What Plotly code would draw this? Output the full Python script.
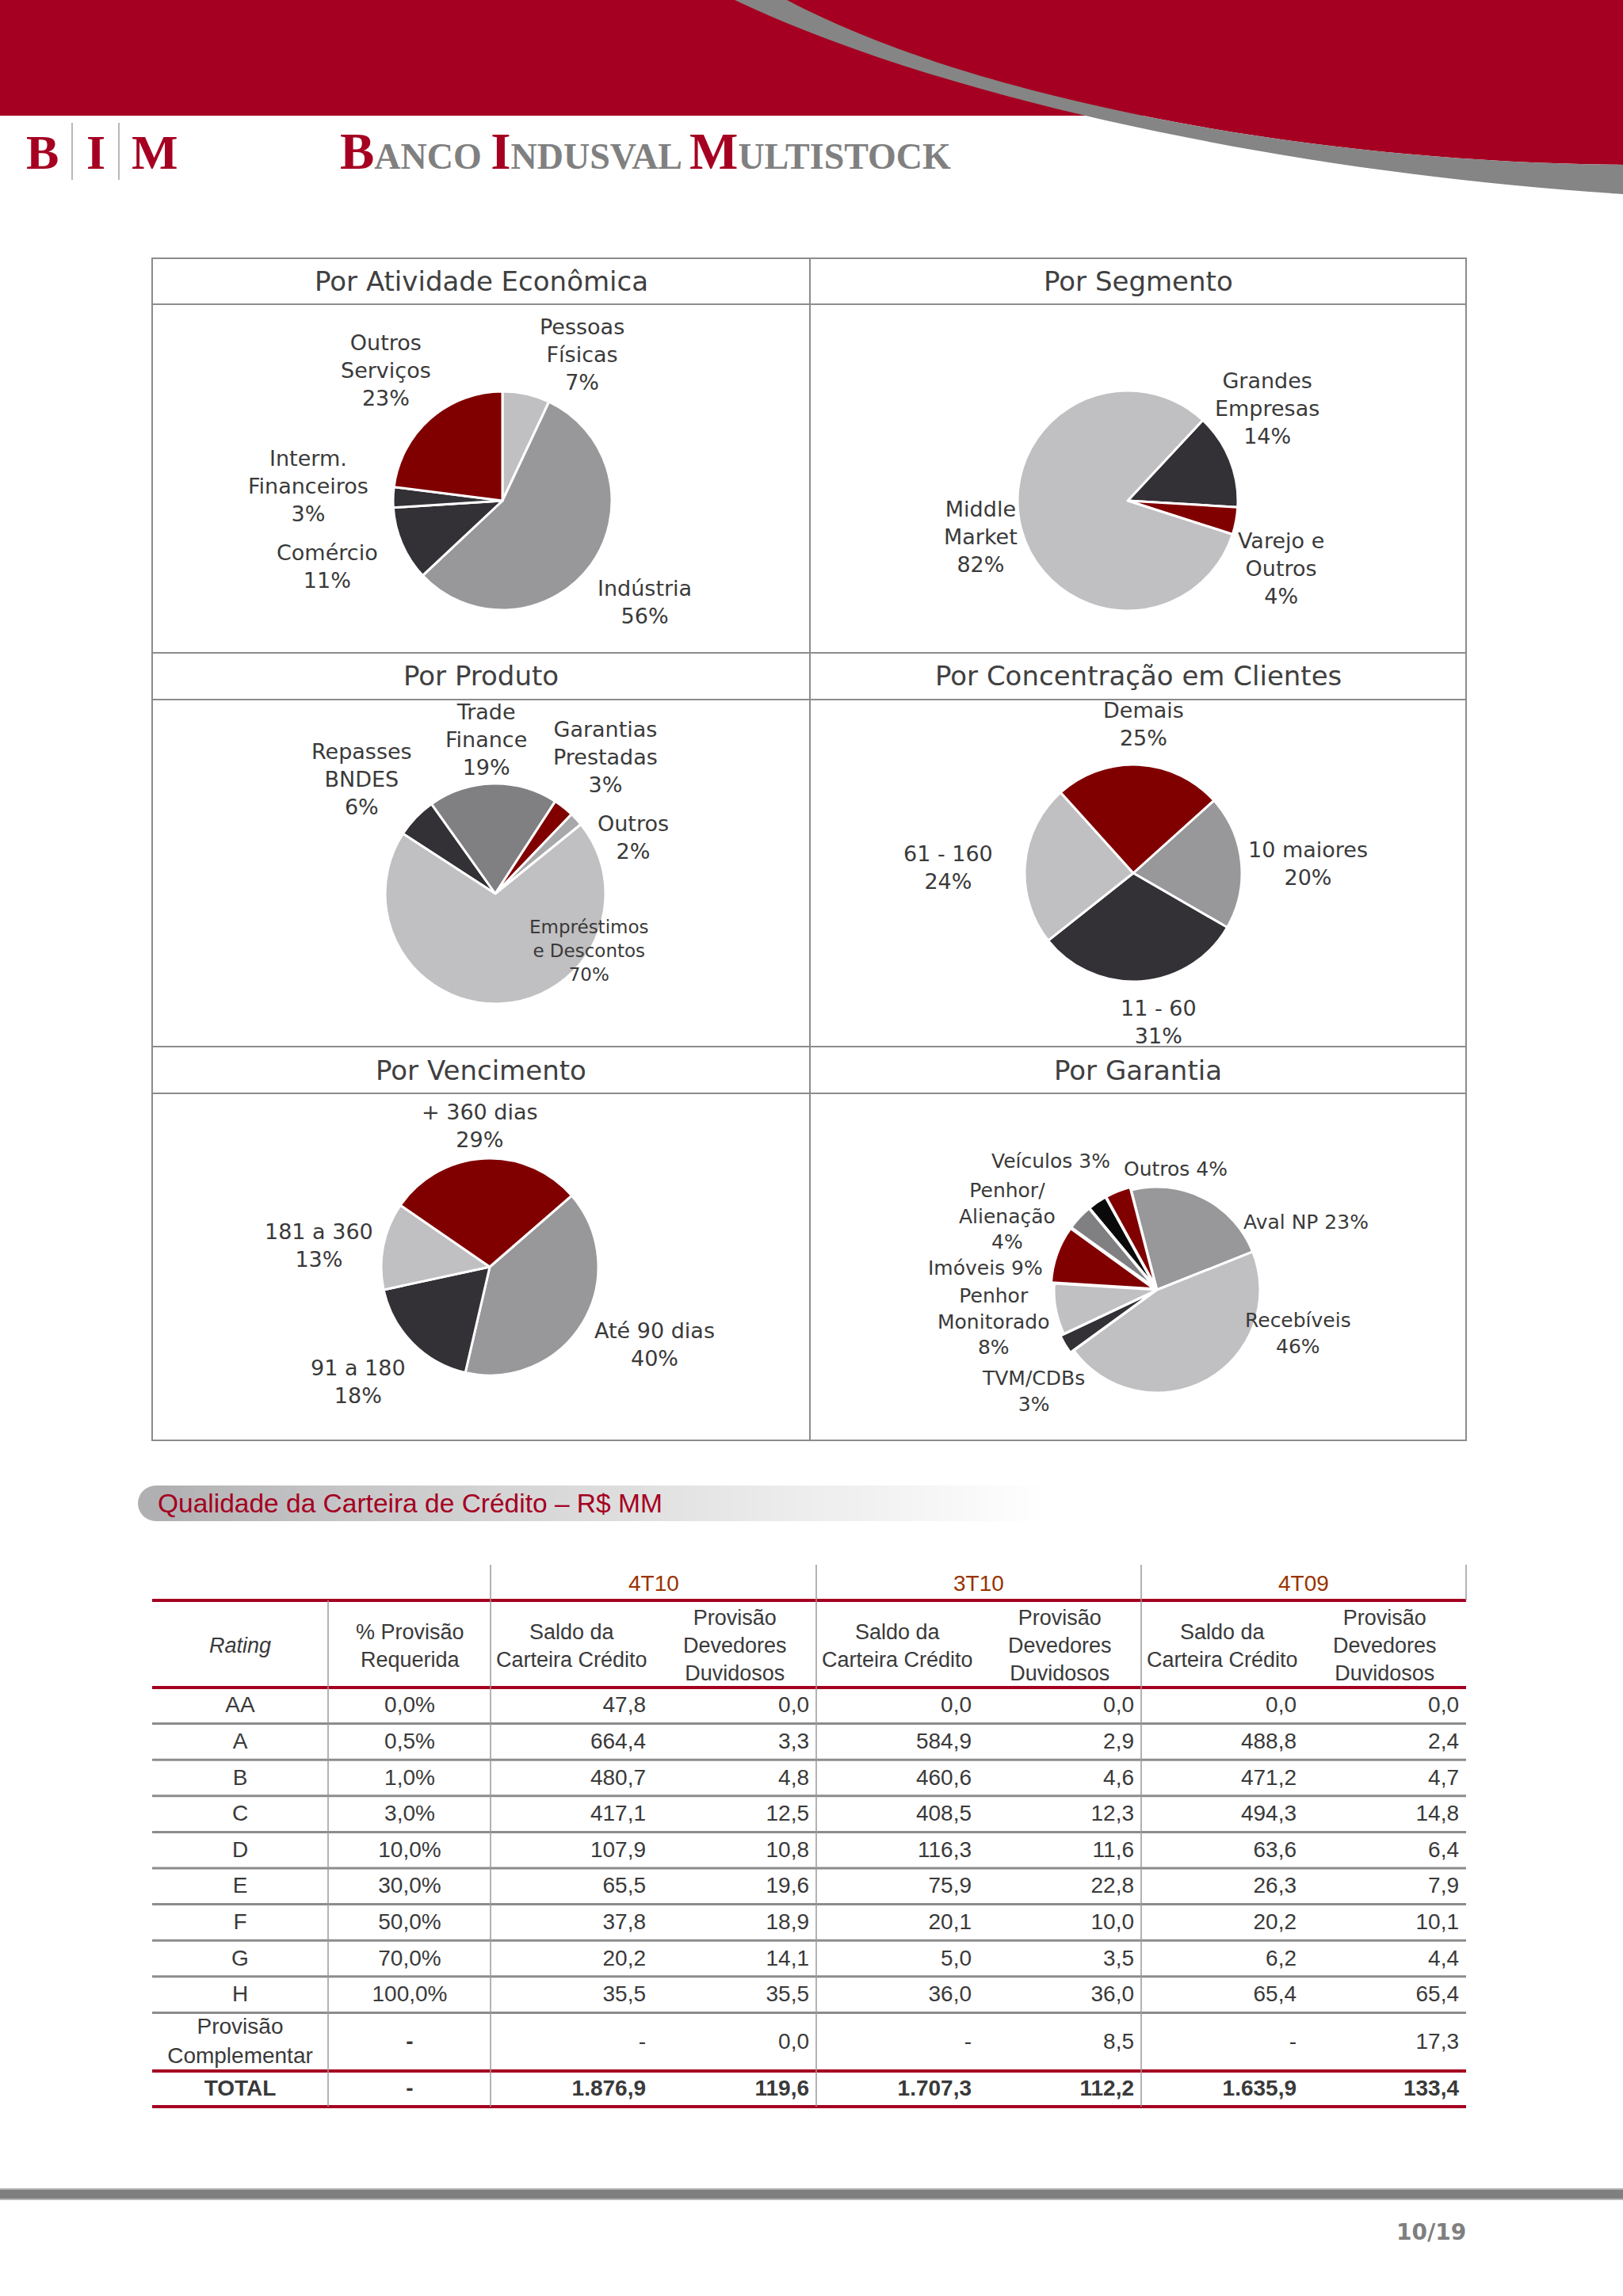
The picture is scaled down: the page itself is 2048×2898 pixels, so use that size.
import plotly.graph_objects as go

W, H = 2048, 2898

# ---------------- colours ----------------
RED = "#800000"
LIGHT = "#C0BFC1"
MID = "#98979A"
DARK = "#333135"
MID2 = "#807F82"
PALE = "#A8A8AA"
BLACK = "#0A0A0A"
BRAND = "#A50021"
TXT = "#3A3A3A"
GRID = "#8C8C8C"

# ---------------- pie data ----------------
ativ_labels = ["Pessoas<br>Físicas", "Indústria", "Comércio", "Interm.<br>Financeiros", "Outros<br>Serviços"]
ativ_values = [7, 56, 11, 3, 23]
ativ_colors = [LIGHT, MID, DARK, DARK, RED]

seg_labels = ["Grandes<br>Empresas", "Varejo e<br>Outros", "Middle<br>Market"]
seg_values = [14, 4, 82]
seg_colors = [DARK, RED, LIGHT]

prod_labels = ["Repasses<br>BNDES", "Trade<br>Finance", "Garantias<br>Prestadas", "Outros", "Empréstimos<br>e Descontos"]
prod_values = [6, 19, 3, 2, 70]
prod_colors = [DARK, MID2, RED, PALE, LIGHT]

conc_labels = ["10 maiores", "11 - 60", "61 - 160", "Demais"]
conc_values = [20, 31, 24, 25]
conc_colors = [MID, DARK, LIGHT, RED]

venc_labels = ["Até 90 dias", "91 a 180", "181 a 360", "+ 360 dias"]
venc_values = [40, 18, 13, 29]
venc_colors = [MID, DARK, LIGHT, RED]

gar_labels = ["Aval NP", "Recebíveis", "TVM/CDBs", "Penhor<br>Monitorado", "Imóveis",
              "Penhor/<br>Alienação", "Veículos", "Outros"]
gar_values = [23, 46, 3, 8, 9, 4, 3, 4]
gar_colors = [MID, LIGHT, DARK, LIGHT, RED, MID2, BLACK, RED]
gar_pull = [0, 0, 0.04, 0, 0.03, 0.03, 0.03, 0.03]

# ---------------- table data ----------------
periods = ["4T10", "3T10", "4T09"]
ratings = ["AA", "A", "B", "C", "D", "E", "F", "G", "H", "Provisão<br>Complementar", "TOTAL"]
prov_req = [0.0, 0.5, 1.0, 3.0, 10.0, 30.0, 50.0, 70.0, 100.0, None, None]
saldo_4t10 = [47.8, 664.4, 480.7, 417.1, 107.9, 65.5, 37.8, 20.2, 35.5, None, 1876.9]
pdd_4t10 = [0.0, 3.3, 4.8, 12.5, 10.8, 19.6, 18.9, 14.1, 35.5, 0.0, 119.6]
saldo_3t10 = [0.0, 584.9, 460.6, 408.5, 116.3, 75.9, 20.1, 5.0, 36.0, None, 1707.3]
pdd_3t10 = [0.0, 2.9, 4.6, 12.3, 11.6, 22.8, 10.0, 3.5, 36.0, 8.5, 112.2]
saldo_4t09 = [0.0, 488.8, 471.2, 494.3, 63.6, 26.3, 20.2, 6.2, 65.4, None, 1635.9]
pdd_4t09 = [0.0, 2.4, 4.7, 14.8, 6.4, 7.9, 10.1, 4.4, 65.4, 17.3, 133.4]


def fmt(v):
    if v is None:
        return "-"
    s = f"{v:,.1f}"
    return s.replace(",", "#").replace(".", ",").replace("#", ".")


fig = go.Figure()
shapes = []
ann = []

# overlay axes in page pixel coordinates
fig.update_layout(
    xaxis=dict(range=[0, W], visible=False, fixedrange=True, domain=[0, 1]),
    yaxis=dict(range=[H, 0], visible=False, fixedrange=True, domain=[0, 1]),
)

# ---------------- header ----------------
shapes.append(dict(type="rect", x0=0, x1=W, y0=0, y1=146, fillcolor=BRAND, line_width=0, layer="below"))
shapes.append(dict(type="path", path="M 993,0 C 1230,125 1650,205 2048,208 L 2048,0 Z",
                   fillcolor=BRAND, line_width=0, layer="below"))
shapes.append(dict(type="path",
                   path="M 927,0 C 1200,130 1650,220 2048,245 L 2048,208 C 1650,205 1230,125 993,0 Z",
                   fillcolor="#858585", line_width=0, layer="below"))

for xx in (91, 150):
    shapes.append(dict(type="line", x0=xx, x1=xx, y0=155, y1=227, line=dict(color="#A0A0A0", width=1.5), layer="below"))
for ch, xx in (("B", 53), ("I", 121), ("M", 195)):
    ann.append(dict(x=xx, y=192, text=ch, showarrow=False, xanchor="center", yanchor="middle",
                    font=dict(family="Liberation Serif", size=62, color=BRAND, weight="bold")))
big = '<span style="font-size:65px;fill:%s">%s</span>'
ann.append(dict(x=427, y=191, xanchor="left", yanchor="middle", showarrow=False,
                text=(big % (BRAND, "B")) + "ANCO " + (big % (BRAND, "I")) + "NDUSVAL " + (big % (BRAND, "M")) + "ULTISTOCK",
                font=dict(family="Liberation Serif", size=46, color="#808080", weight="bold")))

# ---------------- grid of pies ----------------
GL = dict(color=GRID, width=2)
shapes.append(dict(type="rect", x0=192, x1=1850, y0=326, y1=1818, line=GL, layer="below"))
shapes.append(dict(type="line", x0=1022, x1=1022, y0=326, y1=1818, line=GL, layer="below"))
for yy in (384, 824, 883, 1321, 1380):
    shapes.append(dict(type="line", x0=192, x1=1850, y0=yy, y1=yy, line=GL, layer="below"))

titles = [("Por Atividade Econômica", 607, 355), ("Por Segmento", 1436, 355),
          ("Por Produto", 607, 853), ("Por Concentração em Clientes", 1436, 853),
          ("Por Vencimento", 607, 1351), ("Por Garantia", 1436, 1351)]
for t, xx, yy in titles:
    ann.append(dict(x=xx, y=yy, text=t, showarrow=False, xanchor="center", yanchor="middle",
                    font=dict(family="DejaVu Sans", size=34, color="#404040")))

pies = [
    dict(labels=ativ_labels, values=ativ_values, colors=ativ_colors, cx=634, cy=632, r=138, rot=0, pull=0,
         pos=[(734, 447, "<br>", 27), (813, 760, "<br>", 27), (413, 715, "<br>", 27), (389, 613, "<br>", 27), (487, 467, "<br>", 27)]),
    dict(labels=seg_labels, values=seg_values, colors=seg_colors, cx=1423, cy=632, r=139, rot=43, pull=0,
         pos=[(1599, 515, "<br>", 27), (1616, 717, "<br>", 27), (1237, 677, "<br>", 27)]),
    dict(labels=prod_labels, values=prod_values, colors=prod_colors, cx=625, cy=1128, r=139, rot=-57, pull=0,
         pos=[(456, 983, "<br>", 27), (613, 933, "<br>", 27), (764, 955, "<br>", 27), (799, 1057, "<br>", 27), (743, 1200, "<br>", 23)]),
    dict(labels=conc_labels, values=conc_values, colors=conc_colors, cx=1430, cy=1102, r=137, rot=48, pull=0,
         pos=[(1650, 1090, "<br>", 27), (1462, 1290, "<br>", 27), (1196, 1095, "<br>", 27), (1443, 914, "<br>", 27)]),
    dict(labels=venc_labels, values=venc_values, colors=venc_colors, cx=618, cy=1599, r=137, rot=49, pull=0,
         pos=[(826, 1697, "<br>", 27), (452, 1744, "<br>", 27), (402, 1572, "<br>", 27), (605, 1421, "<br>", 27)]),
    dict(labels=gar_labels, values=gar_values, colors=gar_colors, cx=1460, cy=1628, r=130, rot=-14.5, pull=gar_pull,
         pos=[(1648, 1542, " ", 25), (1638, 1683, "<br>", 25), (1304, 1756, "<br>", 25), (1254, 1668, "<br>", 25),
              (1243, 1600, " ", 25), (1271, 1535, "<br>", 25), (1326, 1465, " ", 25), (1483, 1475, " ", 25)]),
]

for p in pies:
    mp = max(p["pull"]) if isinstance(p["pull"], list) else p["pull"]
    R = p["r"] * (1 + mp)
    fig.add_trace(go.Pie(
        labels=p["labels"], values=p["values"], sort=False, direction="clockwise", rotation=p["rot"],
        pull=p["pull"], marker=dict(colors=p["colors"], line=dict(color="white", width=3)),
        textinfo="none", hoverinfo="label+percent", showlegend=False,
        domain=dict(x=[(p["cx"] - R) / W, (p["cx"] + R) / W], y=[1 - (p["cy"] + R) / H, 1 - (p["cy"] - R) / H]),
    ))
    for lab, val, (xx, yy, sep, fs) in zip(p["labels"], p["values"], p["pos"]):
        ann.append(dict(x=xx, y=yy, text=f"{lab}{sep}{val}%", showarrow=False, xanchor="center", yanchor="middle",
                        align="center", font=dict(family="DejaVu Sans", size=fs, color=TXT)))

# ---------------- section bar ----------------
bx0, bx1, by0, by1 = 197, 1330, 1875, 1920
c0 = (176, 176, 178)
shapes.append(dict(type="circle", x0=174, x1=220, y0=by0, y1=by1, fillcolor="rgb(176,176,178)", line_width=0, layer="below"))
N = 70
for i in range(N):
    f = i / (N - 1)
    g = f ** 0.8
    col = tuple(int(c + (255 - c) * g) for c in c0)
    xa = bx0 + (bx1 - bx0) * i / N
    xb = bx0 + (bx1 - bx0) * (i + 1) / N + 1
    shapes.append(dict(type="rect", x0=xa, x1=xb, y0=by0, y1=by1, fillcolor="rgb(%d,%d,%d)" % col,
                       line_width=0, layer="below"))
ann.append(dict(x=197, y=1897, xanchor="left", yanchor="middle", showarrow=False,
                text="Qualidade da Carteira de Crédito – R$ MM",
                font=dict(family="Liberation Sans", size=33.5, color=BRAND)))

# ---------------- table ----------------
TX0, TX1 = 192, 1850
col_edges = [192, 414, 619, 1030, 1440, 1850]
row_edges = [2130 + k * 45.6 for k in range(10)] + [2614, 2659]
row_c = [(row_edges[i] + row_edges[i + 1]) / 2 + 1.5 for i in range(len(row_edges) - 1)]

RL = dict(color=BRAND, width=4)
for yy in (2020, 2130, 2614, 2659):
    shapes.append(dict(type="line", x0=TX0, x1=TX1, y0=yy, y1=yy, line=RL, layer="below"))
for yy in row_edges[1:10]:
    shapes.append(dict(type="line", x0=TX0, x1=TX1, y0=yy, y1=yy, line=dict(color=GRID, width=3), layer="below"))
shapes.append(dict(type="line", x0=414, x1=414, y0=2020, y1=2659, line=dict(color="#9A9A9A", width=1.5), layer="below"))
for xx in (619, 1030, 1440):
    shapes.append(dict(type="line", x0=xx, x1=xx, y0=1975, y1=2659, line=dict(color="#9A9A9A", width=1.5), layer="below"))
shapes.append(dict(type="line", x0=1850, x1=1850, y0=1975, y1=2020, line=dict(color="#9A9A9A", width=1.5), layer="below"))

TF = "Liberation Sans"
FS = 28
for per, g0, g1 in zip(periods, col_edges[2:5], col_edges[3:6]):
    ann.append(dict(x=(g0 + g1) / 2, y=1998, text=per, showarrow=False, xanchor="center", yanchor="middle",
                    font=dict(family=TF, size=FS, color="#993300")))
    mid = (g0 + g1) / 2
    ann.append(dict(x=(g0 + mid) / 2, y=2077, text="Saldo da<br>Carteira Crédito", showarrow=False,
                    xanchor="center", yanchor="middle", font=dict(family=TF, size=27, color=TXT)))
    ann.append(dict(x=(mid + g1) / 2, y=2077, text="Provisão<br>Devedores<br>Duvidosos", showarrow=False,
                    xanchor="center", yanchor="middle", font=dict(family=TF, size=27, color=TXT)))
ann.append(dict(x=303, y=2077, text="<i>Rating</i>", showarrow=False, xanchor="center", yanchor="middle",
                font=dict(family=TF, size=27, color=TXT)))
ann.append(dict(x=517, y=2077, text="% Provisão<br>Requerida", showarrow=False, xanchor="center", yanchor="middle",
                font=dict(family=TF, size=27, color=TXT)))

last = len(ratings) - 1


def bold_last(texts, bold_dash=False):
    out = []
    for i, t in enumerate(texts):
        if i == last or (bold_dash and t == "-"):
            out.append(f"<b>{t}</b>")
        else:
            out.append(t)
    return out


def text_col(x, texts, pos):
    fig.add_trace(go.Scatter(x=[x] * len(texts), y=row_c, mode="text", text=texts, textposition=pos,
                             textfont=dict(family=TF, size=FS, color=TXT), hoverinfo="skip",
                             showlegend=False, xaxis="x", yaxis="y"))


text_col(303, bold_last(ratings), "middle center")
text_col(517, bold_last([fmt(v) + "%" if v is not None else "-" for v in prov_req], bold_dash=True), "middle center")
value_cols = [saldo_4t10, pdd_4t10, saldo_3t10, pdd_3t10, saldo_4t09, pdd_4t09]
rights = [815, 1021, 1226, 1431, 1636, 1841]
for vals, xr in zip(value_cols, rights):
    text_col(xr, bold_last([fmt(v) for v in vals]), "middle left")

# ---------------- footer ----------------
shapes.append(dict(type="rect", x0=0, x1=W, y0=2762, y1=2777, fillcolor="#B5B5B5", line_width=0, layer="below"))
shapes.append(dict(type="rect", x0=0, x1=W, y0=2764, y1=2775, fillcolor="#7F7F7F", line_width=0, layer="below"))
ann.append(dict(x=1852, y=2817, text="10/19", showarrow=False, xanchor="right", yanchor="middle",
                font=dict(family="DejaVu Sans", size=28, color="#7F7F7F", weight="bold")))

fig.update_layout(
    width=W, height=H, margin=dict(l=0, r=0, t=0, b=0, pad=0),
    paper_bgcolor="white", plot_bgcolor="rgba(0,0,0,0)",
    shapes=shapes, annotations=ann, showlegend=False,
)

fig.write_html("out.html", config={"displayModeBar": False},
               post_script="document.body.style.margin='0';document.body.style.overflow='hidden';")
